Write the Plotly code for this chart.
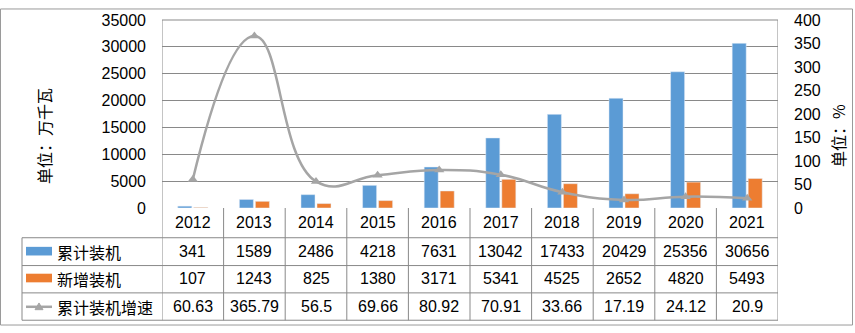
import plotly.graph_objects as go

years = ["2012", "2013", "2014", "2015", "2016", "2017", "2018", "2019", "2020", "2021"]
cumulative = [341, 1589, 2486, 4218, 7631, 13042, 17433, 20429, 25356, 30656]
added = [107, 1243, 825, 1380, 3171, 5341, 4525, 2652, 4820, 5493]
growth = [60.63, 365.79, 56.5, 69.66, 80.92, 70.91, 33.66, 17.19, 24.12, 20.9]
growth_text = ["60.63", "365.79", "56.5", "69.66", "80.92", "70.91", "33.66", "17.19", "24.12", "20.9"]
series_names = ["累计装机", "新增装机", "累计装机增速"]

W, H = 855, 333
L, R, T, B = 162, 778, 12, 208
FONT = "Liberation Sans, Noto Sans CJK SC"
GRID = "#898989"
BLUE, ORANGE, GRAY = "#5B9BD5", "#ED7D31", "#A5A5A5"


def px(x):
    return (x - L) / (R - L)


def py(y):
    return (B - y) / (B - T)


fig = go.Figure()
fig.add_trace(go.Bar(x=years, y=cumulative, name=series_names[0], marker_color=BLUE, yaxis="y"))
fig.add_trace(go.Bar(x=years, y=added, name=series_names[1], marker_color=ORANGE, yaxis="y"))
fig.add_trace(go.Scatter(x=years, y=growth, name=series_names[2], yaxis="y2",
                         mode="lines+markers",
                         line=dict(shape="spline", smoothing=1.3, color=GRAY, width=2.5),
                         marker=dict(symbol="triangle-up", size=9, color=GRAY)))

shapes = []
line_style = dict(color=GRID, width=1)
# outer border
shapes.append(dict(type="rect", xref="paper", yref="paper", x0=px(0.5), x1=px(852.5),
                   y0=py(330), y1=py(0.5), line=dict(color="#9a9a9a", width=1)))
# top plot line
shapes.append(dict(type="line", xref="paper", yref="paper", x0=0, x1=1, y0=1, y1=1, line=line_style))
# table horizontal lines
for yy in [239, 268, 296.5, 325]:
    shapes.append(dict(type="line", xref="paper", yref="paper", x0=px(22), x1=1,
                       y0=py(yy), y1=py(yy), line=line_style))
# vertical lines
for i in range(len(years) + 1):
    xv = i - 0.5
    top = 1 if i in (0, len(years)) else 0
    shapes.append(dict(type="line", xref="x", yref="paper", x0=xv, x1=xv,
                       y0=top, y1=py(325), line=line_style))
shapes.append(dict(type="line", xref="paper", yref="paper", x0=px(22), x1=px(22),
                   y0=py(239), y1=py(325), line=line_style))

# legend keys in table
row_centers = [253.5, 282, 311]
shapes.append(dict(type="rect", xref="paper", yref="paper", x0=px(26), x1=px(52),
                   y0=py(257.5), y1=py(248.5), fillcolor=BLUE, line=dict(width=0)))
shapes.append(dict(type="rect", xref="paper", yref="paper", x0=px(26), x1=px(52),
                   y0=py(285.5), y1=py(276.5), fillcolor=ORANGE, line=dict(width=0)))
shapes.append(dict(type="line", xref="paper", yref="paper", x0=px(26), x1=px(52),
                   y0=py(311), y1=py(311), line=dict(color=GRAY, width=2.5)))
tri = "M {},{} L {},{} L {},{} Z".format(px(35), py(314), px(43), py(314), px(39), py(307))
shapes.append(dict(type="path", xref="paper", yref="paper", path=tri, fillcolor=GRAY,
                   line=dict(color=GRAY, width=1)))

ann = []
# years
for i, yv in enumerate(years):
    ann.append(dict(x=i, xref="x", y=py(223.5), yref="paper", text=yv, showarrow=False,
                    font=dict(size=16, color="#000"), yanchor="middle"))
rows = [[str(v) for v in cumulative], [str(v) for v in added], growth_text]
for r, vals in enumerate(rows):
    for i, t in enumerate(vals):
        ann.append(dict(x=i, xref="x", y=py(row_centers[r]), yref="paper", text=t,
                        showarrow=False, font=dict(size=16, color="#000"), yanchor="middle"))
    ann.append(dict(x=px(55), xref="paper", y=py(row_centers[r]), yref="paper",
                    text=series_names[r], showarrow=False, xanchor="left", yanchor="middle",
                    font=dict(size=16, color="#000", family="Noto Sans CJK SC")))
# axis titles
ann.append(dict(x=px(44), xref="paper", y=py(133), yref="paper", text="单位：万千瓦",
                showarrow=False, textangle=-90, xanchor="center", yanchor="middle",
                font=dict(size=16, color="#000", family="Noto Sans CJK SC")))
ann.append(dict(x=px(838), xref="paper", y=py(133), yref="paper", text="单位：%",
                showarrow=False, textangle=-90, xanchor="center", yanchor="middle",
                font=dict(size=16, color="#000", family="Noto Sans CJK SC")))

fig.update_layout(
    width=W, height=H,
    margin=dict(l=L, r=W - R, t=T, b=H - B, pad=0),
    paper_bgcolor="white", plot_bgcolor="white",
    font=dict(family=FONT, size=16, color="#000"),
    showlegend=False,
    barmode="group", bargap=0.48, bargroupgap=0.125,
    xaxis=dict(type="category", range=[-0.5, len(years) - 0.5], showticklabels=False,
               showgrid=False, zeroline=False, showline=False, ticks=""),
    yaxis=dict(range=[0, 35000], dtick=5000, tickformat="d", showgrid=True, gridcolor=GRID,
               gridwidth=1, zeroline=False, showline=False, ticks="", ticklabelstandoff=15,
               tickfont=dict(size=16, color="#000")),
    yaxis2=dict(range=[0, 400], dtick=50, tickformat="d", overlaying="y", side="right",
                showgrid=False, zeroline=False, showline=False, ticks="", ticklabelstandoff=15,
                tickfont=dict(size=16, color="#000")),
    shapes=shapes,
    annotations=ann,
)

fig.write_html("out.html")
